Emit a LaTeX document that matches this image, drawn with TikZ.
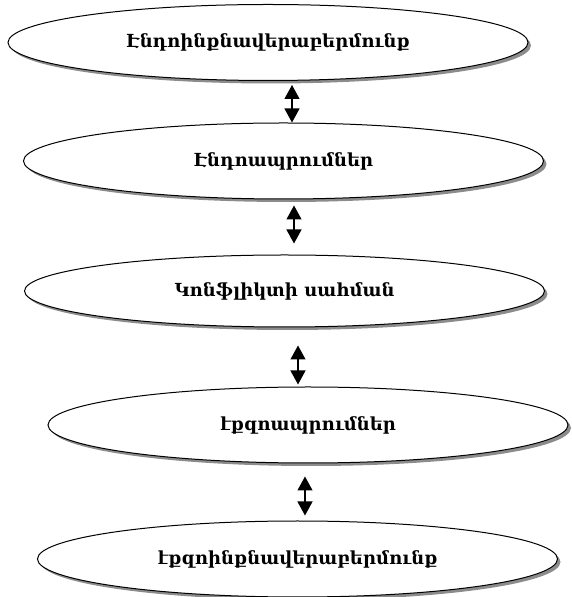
\documentclass[tikz,border=0pt]{standalone}
\usepackage{fontspec}
\setmainfont{DejaVu Serif}
\usetikzlibrary{shapes.geometric,shadows,arrows.meta}

\begin{document}
\begin{tikzpicture}[x=1pt,y=1pt,
    stage/.style={ellipse,draw,line width=1pt,fill=white,minimum width=520pt,minimum height=76pt,inner sep=0pt,
        font=\fontsize{18}{20}\selectfont\bfseries,drop shadow={shadow xshift=3pt,shadow yshift=-3pt,fill=black!45,opacity=1}},
    link/.style={{Triangle[width=15pt,length=14pt]}-{Triangle[width=15pt,length=14pt]},line width=1.2pt}]
    \useasboundingbox(0,0)rectangle(572,597);

    \node[stage](e1)at(268,554.5){Էնդոինքնավերաբերմունք};
    \node[stage](e2)at(283.5,436){Էնդոապրումներ};
    \node[stage,minimum height=72pt](e3)at(284.5,306){Կոնֆլիկտի սահման};
    \node[stage](e4)at(308,172){էքզոապրումներ};
    \node[stage](e5)at(297.5,38){էքզոինքնավերաբերմունք};

    \draw[link,shorten <=4pt](292,0|-e1.south)--(292,0|-e2.north);
    \draw[link,shorten <=6pt,shorten >=11pt](294,0|-e2.south)--(294,0|-e3.north);
    \draw[link,shorten <=18pt,shorten >=2pt](298,0|-e3.south)--(298,0|-e4.north);
    \draw[link,shorten <=13pt,shorten >=5pt](305,0|-e4.south)--(305,0|-e5.north);
\end{tikzpicture}
\end{document}
